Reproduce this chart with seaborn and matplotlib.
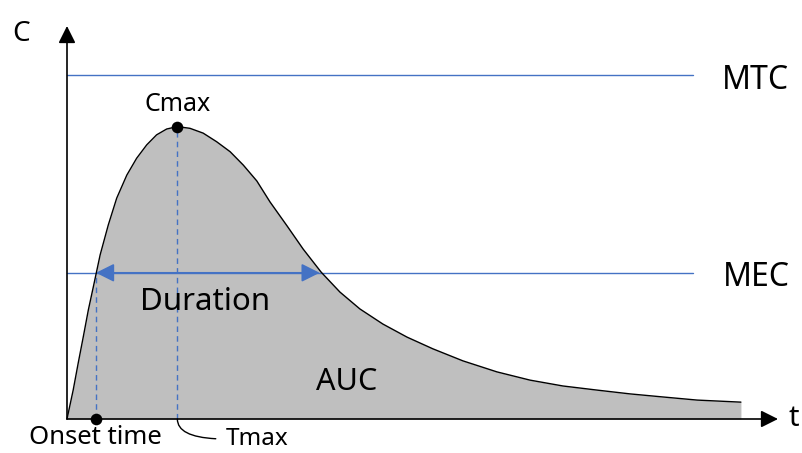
import matplotlib
matplotlib.use("Agg")
import matplotlib.pyplot as plt
import seaborn as sns

# concentration-time curve (hours, ug/mL)
time_h = [0.00, 0.22, 0.40, 0.58, 0.76, 0.94, 1.18, 1.47, 1.77, 2.13, 2.48, 2.84,
          3.19, 3.55, 3.93, 4.38, 4.85, 5.33, 5.81, 6.28, 6.76, 7.23, 7.84, 8.41,
          9.05, 9.72, 10.43, 11.25, 12.11, 13.03, 14.10, 15.31, 16.49, 17.66,
          18.88, 20.05, 21.23, 22.44, 24.00]
conc = [0.00, 0.84, 1.63, 2.39, 3.17, 3.85, 4.77, 5.64, 6.42, 7.09, 7.58, 7.97,
        8.26, 8.43, 8.50, 8.45, 8.31, 8.06, 7.77, 7.38, 6.92, 6.31, 5.61, 4.94,
        4.27, 3.69, 3.20, 2.76, 2.38, 2.04, 1.69, 1.37, 1.13, 0.96,
        0.84, 0.73, 0.64, 0.55, 0.49]

mtc = 10.0
mec = 4.25
cmax = 8.5
tmax = 3.93
onset_t = 1.03
offset_t = 9.0
line_end_t = 22.3

BLUE = "#4472C4"
GRAY = "#bfbfbf"

sns.set_theme(style="white")
plt.rcParams['font.family'] = ['Noto Sans', 'DejaVu Sans']
plt.rcParams['text.color'] = 'black'

# pixel scale of the layout
PX_T = 28.08
PX_C = 34.4
X0, Y0 = 67, 419
W, H = 803, 453

fig = plt.figure(figsize=(W / 100, H / 100), dpi=100)
ax = fig.add_axes([0, 0, 1, 1])
ax.set_xlim(-X0 / PX_T, (W - X0) / PX_T)
ax.set_ylim(-(H - Y0) / PX_C, Y0 / PX_C)
ax.axis('off')

# shaded AUC and curve
ax.fill_between(time_h, conc, 0, color=GRAY, lw=0, zorder=1)
sns.lineplot(x=time_h, y=conc, color='black', lw=1.0, estimator=None,
             sort=False, ax=ax, zorder=3)

# axes with arrows
t_tip = (778 - X0) / PX_T
c_tip = (Y0 - 26) / PX_C
arrow_kw = dict(arrowstyle='-|>', color='black', lw=1.2, mutation_scale=26,
                shrinkA=0, shrinkB=0)
ax.annotate('', xy=(t_tip, 0), xytext=(0, 0), arrowprops=arrow_kw, zorder=4)
ax.annotate('', xy=(0, c_tip), xytext=(0, 0), arrowprops=arrow_kw, zorder=4)

# MTC / MEC lines
ax.plot([0, line_end_t], [mtc, mtc], color=BLUE, lw=1.0, zorder=2)
ax.plot([0, line_end_t], [mec, mec], color=BLUE, lw=1.0, zorder=2)

# dashed guides
ax.plot([onset_t, onset_t], [0, mec], color=BLUE, lw=1.0, ls=(0, (4, 3)), zorder=2)
ax.plot([tmax, tmax], [0, cmax], color=BLUE, lw=1.0, ls=(0, (4, 3)), zorder=2)

# duration arrow
ax.annotate('', xy=(offset_t, mec), xytext=(onset_t, mec),
            arrowprops=dict(arrowstyle='<|-|>', color=BLUE, lw=1.2,
                            mutation_scale=28, shrinkA=0, shrinkB=0), zorder=4)

# points
sns.scatterplot(x=[tmax, onset_t], y=[cmax, 0], color='black', s=70,
                edgecolor='black', linewidth=0, ax=ax, zorder=5)

# labels
ax.text((21 - X0) / PX_T, (Y0 - 34) / PX_C, 'C', fontsize=20, ha='center', va='center')
ax.text((794 - X0) / PX_T, 0, 't', fontsize=21, ha='center', va='center')
ax.text((755 - X0) / PX_T, mtc - 5 / PX_C, 'MTC', fontsize=23, ha='center', va='center')
ax.text((756 - X0) / PX_T, mec - 5 / PX_C, 'MEC', fontsize=23, ha='center', va='center')
ax.text(tmax, cmax + 22 / PX_C, 'Cmax', fontsize=18, ha='center', va='center')
ax.text((205 - X0) / PX_T, mec - 29 / PX_C, 'Duration', fontsize=22.5, ha='center', va='center')
ax.text((347 - X0) / PX_T, (Y0 - 382) / PX_C, 'AUC', fontsize=22, ha='center', va='center')
ax.text((95 - X0) / PX_T, -19 / PX_C, 'Onset time', fontsize=18.5, ha='center', va='center')
ax.annotate('Tmax', xy=(tmax, 0), xytext=((226 - X0) / PX_T, -20 / PX_C),
            fontsize=17.5, ha='left', va='center',
            arrowprops=dict(arrowstyle='-', color='black', lw=1.0,
                            connectionstyle='angle3,angleA=0,angleB=90',
                            relpos=(0, 0.5), shrinkA=5, shrinkB=0))

fig.savefig('out.png', dpi=100)
